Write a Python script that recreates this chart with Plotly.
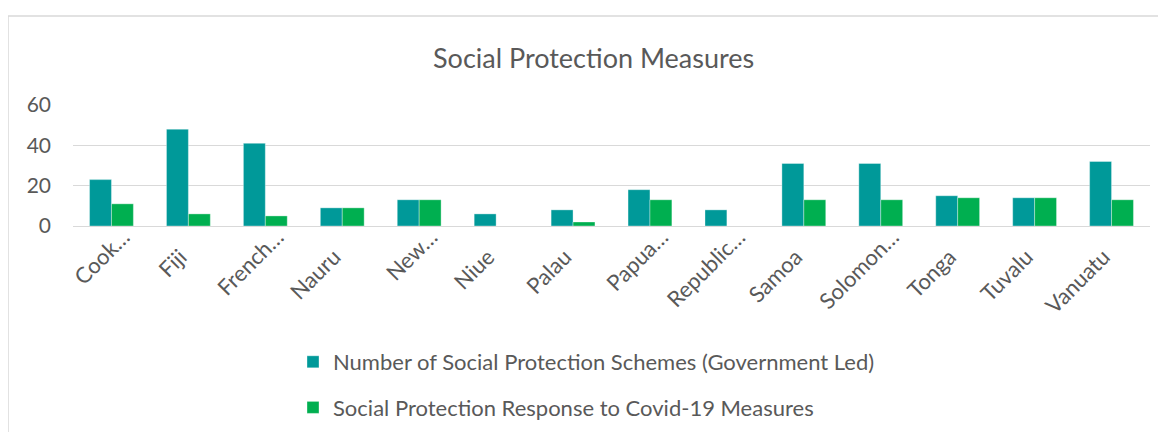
import plotly.graph_objects as go

categories = ["Cook Islands", "Fiji", "French Polynesia", "Nauru", "New Caledonia", "Niue",
              "Palau", "Papua New Guinea", "Republic of the Marshall Islands", "Samoa",
              "Solomon Islands", "Tonga", "Tuvalu", "Vanuatu"]
tick_labels = ["Cook…", "Fiji", "French…", "Nauru", "New…", "Niue", "Palau", "Papua…",
               "Republic…", "Samoa", "Solomon…", "Tonga", "Tuvalu", "Vanuatu"]
schemes = [23, 48, 41, 9, 13, 6, 8, 18, 8, 31, 31, 15, 14, 32]
covid = [11, 6, 5, 9, 13, 0, 2, 13, 0, 13, 13, 14, 14, 13]
series_names = ["Number of Social Protection Schemes (Government Led)",
                "Social Protection Response to Covid-19 Measures"]
y_ticks = [0, 20, 40, 60]
title_text = "Social Protection Measures"

FONT = "Lato"
GREY = "#595959"
W, H = 1166, 432
OFF = 8  # page body margin
L, R, T, B = 65, 24, 97, 214
pw, ph = W - L - R, H - T - B

def px_x(p):
    return (p - OFF - L) / pw

def px_y(p):
    return (H - B - (p - OFF)) / ph

# Excel positions the clipped ("…") labels further along the text direction than full ones
tick_text = [t if t.endswith("…") else t + "\u00a0" * 5 for t in tick_labels]

fig = go.Figure()
fig.add_trace(go.Bar(x=categories, y=schemes, name=series_names[0],
                     marker=dict(color="#009999", line=dict(color="rgba(255,255,255,0.35)", width=1)),
                     legendgroup="a"))
fig.add_trace(go.Bar(x=categories, y=covid, name=series_names[1],
                     marker=dict(color="#00AF50", line=dict(color="rgba(255,255,255,0.35)", width=1)),
                     legendgroup="b"))

fig.update_layout(
    width=W, height=H,
    margin=dict(l=L, r=R, t=T, b=B, autoexpand=False),
    paper_bgcolor="white", plot_bgcolor="white",
    barmode="group", bargap=0.43, bargroupgap=0,
    font=dict(family=FONT, color=GREY, size=22),
    showlegend=True,
    legend=dict(orientation="v", x=px_x(293), xanchor="left", y=px_y(341), yanchor="top",
                font=dict(family=FONT, size=22, color=GREY), tracegroupgap=14,
                bgcolor="rgba(0,0,0,0)"),
    xaxis=dict(tickmode="array", tickvals=categories, ticktext=tick_text, tickangle=-45,
               showgrid=False, showline=False, zeroline=False,
               tickfont=dict(family=FONT, size=22, color=GREY),
               ticklabelshift=12, ticklabelstandoff=-7, fixedrange=True),
    yaxis=dict(range=[0, 60], tickvals=y_ticks, showgrid=True, gridcolor="#D9D9D9", gridwidth=1.3,
               zeroline=True, zerolinecolor="#D9D9D9", zerolinewidth=1.3, showline=False,
               tickfont=dict(family=FONT, size=21, color=GREY), ticklabelstandoff=21,
               fixedrange=True),
)

fig.add_shape(type="rect", xref="paper", yref="paper",
              x0=px_x(8), x1=px_x(1190), y0=px_y(460), y1=px_y(16),
              line=dict(color="#D9D9D9", width=1.5), fillcolor="rgba(0,0,0,0)", layer="below")

fig.add_annotation(text=title_text, xref="paper", yref="paper", x=px_x(593), y=px_y(57),
                   xanchor="center", yanchor="middle", showarrow=False,
                   font=dict(family=FONT, size=27, color=GREY))

fig.write_html("out.html")
